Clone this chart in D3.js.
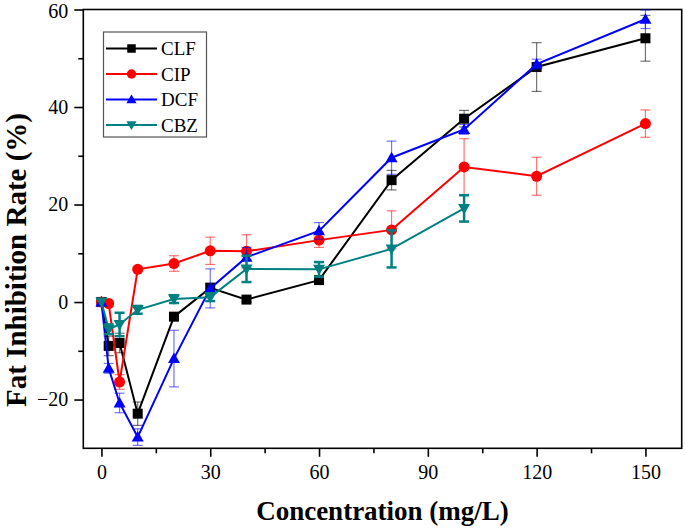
<!DOCTYPE html>
<html>
<head>
<meta charset="utf-8">
<script src="https://cdn.jsdelivr.net/npm/d3@7"></script>
<style>
  html, body { margin: 0; padding: 0; background: #fff; }
  svg { display: block; }
  text { font-family: "Liberation Serif", "Times New Roman", serif; }
</style>
</head>
<body>
<svg id="chart" width="685" height="530"></svg>
<script>
// ---- Data ----
const concentrations = [0, 2, 5, 10, 20, 30, 40, 60, 80, 100, 120, 150];
const concentrationsCBZ = [0, 2, 5, 10, 20, 30, 40, 60, 80, 100];

const clfValues = [0, -9.0, -8.4, -22.9, -3.0, 2.9, 0.5, 4.5, 25.0, 37.6, 48.2, 54.1];
const clfErrors = [0, 2.0, 2.0, 2.4, 0.5, 1.0, 0.5, 0.5, 2.0, 1.7, 5.0, 4.7];

const cipValues = [0, -0.3, -16.4, 6.7, 7.9, 10.5, 10.4, 12.7, 14.8, 27.7, 25.8, 36.6];
const cipErrors = [0, 0.5, 1.5, 0.5, 1.6, 2.8, 3.4, 1.5, 3.9, 5.8, 3.9, 2.8];

const dcfValues = [0, -13.6, -20.7, -27.7, -11.6, 2.8, 9.2, 14.6, 29.6, 35.4, 48.8, 58.0];
const dcfErrors = [0, 1.0, 2.0, 1.7, 5.8, 4.0, 2.0, 1.7, 3.4, 1.0, 1.0, 1.9];

const cbzValues = [0, -5.6, -4.6, -1.6, 0.6, 1.0, 6.8, 6.7, 10.9, 19.2];
const cbzErrors = [0, 1.0, 2.4, 0.8, 0.8, 0.8, 2.7, 1.5, 3.8, 2.7];

const seriesNames = ["CLF", "CIP", "DCF", "CBZ"];
const seriesColors = ["#000000", "#ff0000", "#0000ff", "#008080"];
const seriesShapes = ["square", "circle", "triangleUp", "triangleDown"];

const xTicks = [0, 30, 60, 90, 120, 150];
const xMinorTicks = [15, 45, 75, 105, 135];
const yTicks = [-20, 0, 20, 40, 60];
const yMinorTicks = [-10, 10, 30, 50];

const xTitle = "Concentration (mg/L)";
const yTitle = "Fat Inhibition Rate (%)";

// ---- Layout ----
const svg = d3.select("#chart");
const plot = { left: 83.3, right: 681.7, top: 9.5, bottom: 448.3 };
const serif = "'Liberation Serif', 'Times New Roman', serif";

const x = d3.scaleLinear().domain([-5, 160]).range([plot.left, plot.right]);
const y = d3.scaleLinear().domain([-30, 60]).range([plot.bottom, plot.top]);

// Axes
const xAxis = d3.axisBottom(x).tickValues(xTicks).tickSize(8.5).tickSizeOuter(0).tickPadding(8);
const xAxisMinor = d3.axisBottom(x).tickValues(xMinorTicks).tickSize(5).tickSizeOuter(0).tickFormat("");
const yAxis = d3.axisLeft(y).tickValues(yTicks).tickSize(9).tickSizeOuter(0).tickPadding(6);
const yAxisMinor = d3.axisLeft(y).tickValues(yMinorTicks).tickSize(5).tickSizeOuter(0).tickFormat("");

function styleAxis(g) {
  g.attr("font-family", serif);
  g.select(".domain").remove();
  g.selectAll(".tick line").attr("stroke", "#000").attr("stroke-width", 1.6);
  g.selectAll(".tick text").attr("fill", "#000").style("font-size", "20px")
    .style("font-family", serif);
}

svg.append("g").attr("transform", `translate(0,${plot.bottom})`).call(xAxis).call(styleAxis);
svg.append("g").attr("transform", `translate(0,${plot.bottom})`).call(xAxisMinor).call(styleAxis);
const yAxisG = svg.append("g").attr("transform", `translate(${plot.left},0)`).call(yAxis).call(styleAxis);
svg.append("g").attr("transform", `translate(${plot.left},0)`).call(yAxisMinor).call(styleAxis);
// keep the topmost label inside the picture
yAxisG.selectAll(".tick").filter(d => d === d3.max(yTicks)).select("text").attr("dy", "0.42em");

// Frame
svg.append("rect")
  .attr("x", plot.left).attr("y", plot.top)
  .attr("width", plot.right - plot.left).attr("height", plot.bottom - plot.top)
  .attr("fill", "none").attr("stroke", "#000").attr("stroke-width", 1.6);

// Titles
svg.append("text")
  .attr("x", (plot.left + plot.right) / 2).attr("y", 520)
  .attr("text-anchor", "middle")
  .style("font-size", "27px").style("font-weight", "bold")
  .text(xTitle);

svg.append("text")
  .attr("transform", "translate(26,260) rotate(-90)")
  .attr("text-anchor", "middle")
  .style("font-size", "29px").style("font-weight", "bold")
  .text(yTitle);

// Marker drawing
function drawMarker(g, shape, cx, cy, color, scale) {
  const s = scale || 1;
  if (shape === "square") {
    const h = 5 * s;
    g.append("rect").attr("x", cx - h).attr("y", cy - h).attr("width", 2 * h).attr("height", 2 * h)
      .attr("fill", color);
  } else if (shape === "circle") {
    g.append("circle").attr("cx", cx).attr("cy", cy).attr("r", 5.5 * s).attr("fill", color);
  } else if (shape === "triangleUp") {
    const h = 6 * s;
    g.append("path").attr("d", `M${cx},${cy - h}L${cx + h},${cy + h * 0.75}L${cx - h},${cy + h * 0.75}Z`)
      .attr("fill", color);
  } else if (shape === "triangleDown") {
    const h = 6 * s;
    g.append("path").attr("d", `M${cx},${cy + h}L${cx + h},${cy - h * 0.75}L${cx - h},${cy - h * 0.75}Z`)
      .attr("fill", color);
  }
}

const seriesData = [
  { xs: concentrations, ys: clfValues, es: clfErrors },
  { xs: concentrations, ys: cipValues, es: cipErrors },
  { xs: concentrations, ys: dcfValues, es: dcfErrors },
  { xs: concentrationsCBZ, ys: cbzValues, es: cbzErrors }
];

const line = d3.line().x(d => x(d[0])).y(d => y(d[1]));

seriesData.forEach((sd, i) => {
  const color = seriesColors[i];
  const pts = sd.xs.map((xv, j) => [xv, sd.ys[j], sd.es[j]]);
  const g = svg.append("g");
  g.append("path").datum(pts).attr("d", line)
    .attr("fill", "none").attr("stroke", color).attr("stroke-width", 2);
  const thick = i === 3;
  const eg = g.append("g")
    .attr("stroke", color)
    .attr("stroke-width", thick ? 2.5 : 1.2)
    .attr("stroke-opacity", thick ? 1 : 0.55);
  pts.forEach(p => {
    if (p[2] <= 0) return;
    const cx = x(p[0]), y1 = y(p[1] + p[2]), y2 = y(p[1] - p[2]);
    const hw = 5;
    eg.append("line").attr("x1", cx).attr("x2", cx).attr("y1", y1).attr("y2", y2);
    eg.append("line").attr("x1", cx - hw).attr("x2", cx + hw).attr("y1", y1).attr("y2", y1);
    eg.append("line").attr("x1", cx - hw).attr("x2", cx + hw).attr("y1", y2).attr("y2", y2);
  });
  pts.forEach(p => drawMarker(g, seriesShapes[i], x(p[0]), y(p[1]), color));
});

// Legend
const lg = svg.append("g");
lg.append("rect").attr("x", 103.5).attr("y", 32).attr("width", 103).attr("height", 105)
  .attr("fill", "#fff").attr("stroke", "#555").attr("stroke-width", 1.2);
seriesNames.forEach((name, i) => {
  const ly = 48.5 + i * 25.5;
  lg.append("line").attr("x1", 106).attr("x2", 157).attr("y1", ly).attr("y2", ly)
    .attr("stroke", seriesColors[i]).attr("stroke-width", 2);
  drawMarker(lg, seriesShapes[i], 131.5, ly, seriesColors[i], 0.85);
  lg.append("text").attr("x", 161).attr("y", ly + 6.8)
    .style("font-size", "19px").attr("fill", "#000").text(name);
});
</script>
</body>
</html>
